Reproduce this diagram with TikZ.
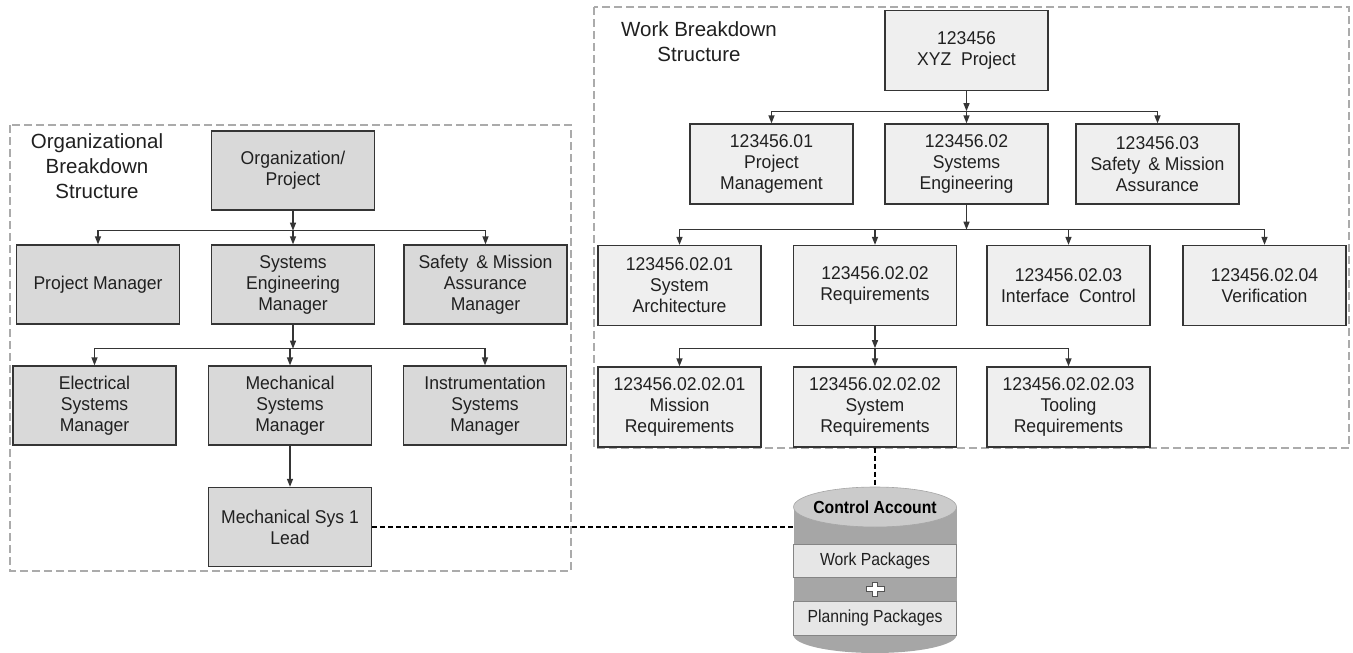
\documentclass[tikz,border=0pt]{standalone}
\usepackage{fontspec}
\setmainfont{Liberation Sans}
\newfontfamily\boxfont{Liberation Sans}[FakeStretch=0.95]
\newfontfamily\cylfont{Liberation Sans}[FakeStretch=0.9]
\usetikzlibrary{arrows.meta,shapes.geometric}

\definecolor{obsfill}{HTML}{D9D9D9}
\definecolor{wbsfill}{HTML}{EFEFEF}
\definecolor{linec}{HTML}{353535}
\definecolor{framec}{HTML}{ABABAB}
\definecolor{txt}{HTML}{202020}
\definecolor{cylbody}{HTML}{A6A6A6}
\definecolor{cyltop}{HTML}{CBCBCB}
\definecolor{cylband}{HTML}{E6E6E6}

\tikzset{
  obsbox/.style={draw=linec, fill=obsfill, line width=1.3pt,
    minimum width=163pt, minimum height=79pt, inner sep=0pt,
    align=center, text=txt, font=\boxfont\fontsize{18.5}{21}\selectfont},
  wbsbox/.style={obsbox, fill=wbsfill, minimum height=80pt},
  arr/.style={draw=linec, line width=1.3pt, -{Triangle[length=8pt,width=6pt]}},
  framebox/.style={draw=framec, line width=1.2pt, dash pattern=on 8pt off 4pt},
  link/.style={draw=black, line width=2.2pt, dash pattern=on 5pt off 3pt},
  heading/.style={align=center, text=txt, font=\fontsize{20.5}{25}\selectfont},
  band/.style={fill=cylband, draw=cylbody!80!black, line width=0.5pt,
    minimum width=163pt, inner sep=0pt, text=txt,
    font=\cylfont\fontsize{17.5}{20}\selectfont},
}

\begin{document}
\begin{tikzpicture}[x=1pt,y=-1pt]
\useasboundingbox (0,0) rectangle (1353,653);

% ---------- dashed frames ----------
\draw[framebox] (10,125) rectangle (571,571);
\draw[framebox] (594,7) rectangle (1349,448);

% ---------- Organizational Breakdown Structure ----------
\node[heading] (obstitle) at (97,166) {Organizational\\Breakdown\\Structure};

\node[obsbox] (org) at (293,170.5) {Organization/\\Project};
\node[obsbox] (pm)  at (98,284.5)  {Project Manager};
\node[obsbox] (sem) at (293,284.5) {Systems\\Engineering\\Manager};
\node[obsbox] (sma) at (485.5,284.5) {Safety \,\& Mission\\Assurance\\Manager};
\node[obsbox] (esm) at (94.5,405.5) {Electrical\\Systems\\Manager};
\node[obsbox] (msm) at (290,405.5) {Mechanical\\Systems\\Manager};
\node[obsbox] (ism) at (485,405.5) {Instrumentation\\Systems\\Manager};
\node[obsbox] (lead) at (290,527) {Mechanical Sys 1\\Lead};

\coordinate (ob1) at ([yshift=-20pt]org.south);
\draw[arr] (org.south) -- (ob1);
\draw[arr] (ob1) -| (pm.north);
\draw[arr] (ob1) -- (sem.north);
\draw[arr] (ob1) -| (sma.north);

\coordinate (ob2) at ([yshift=-24pt]sem.south);
\draw[arr] (sem.south) -- (ob2);
\draw[arr] (ob2) -| (esm.north);
\draw[arr] (ob2) -| (msm.north);
\draw[arr] (ob2) -| (ism.north);

\draw[arr] (msm.south) -- (lead.north);

% ---------- Work Breakdown Structure ----------
\node[heading] (wbstitle) at (699,42) {Work Breakdown\\Structure};

\node[wbsbox] (xyz) at (966.5,50.5) {123456\\XYZ\ \ Project};
\node[wbsbox] (w01) at (771.5,164) {123456.01\\Project\\Management};
\node[wbsbox] (w02) at (966.5,164) {123456.02\\Systems\\Engineering};
\node[wbsbox] (w03) at (1157.5,164) {123456.03\\Safety \,\& Mission\\Assurance};

\node[wbsbox] (w0201) at (679.5,285.5) {123456.02.01\\System\\Architecture};
\node[wbsbox] (w0202) at (875,285.5) {123456.02.02\\Requirements};
\node[wbsbox] (w0203) at (1068.5,285.5) {123456.02.03\\Interface\ \ Control};
\node[wbsbox] (w0204) at (1264.5,285.5) {123456.02.04\\Verification};

\node[wbsbox] (w020201) at (679.5,407) {123456.02.02.01\\Mission\\Requirements};
\node[wbsbox] (w020202) at (875,407) {123456.02.02.02\\System\\Requirements};
\node[wbsbox] (w020203) at (1068.5,407) {123456.02.02.03\\Tooling\\Requirements};

\coordinate (wb1) at ([yshift=-20pt]xyz.south);
\draw[arr] (xyz.south) -- (wb1);
\draw[arr] (wb1) -| (w01.north);
\draw[arr] (wb1) -- (w02.north);
\draw[arr] (wb1) -| (w03.north);

\coordinate (wb2) at ([yshift=-25pt]w02.south);
\draw[arr] (w02.south) -- (wb2);
\draw[arr] (wb2) -| (w0201.north);
\draw[arr] (wb2) -| (w0202.north);
\draw[arr] (wb2) -| (w0203.north);
\draw[arr] (wb2) -| (w0204.north);

\coordinate (wb3) at ([yshift=-22pt]w0202.south);
\draw[arr] (w0202.south) -- (wb3);
\draw[arr] (wb3) -| (w020201.north);
\draw[arr] (wb3) -- (w020202.north);
\draw[arr] (wb3) -| (w020203.north);

% ---------- Control Account cylinder ----------
\node[ellipse, fill=cylbody, minimum width=163pt, minimum height=36pt, inner sep=0pt] (cylbot) at (875,635) {};
\node[fill=cylbody, minimum width=163pt, minimum height=128pt, inner sep=0pt] (cyl) at (875,571) {};
\node[band, minimum height=33pt] (wp) at (875,560.5) {Work Packages};
\node[band, minimum height=34pt] (pp) at (875,618) {Planning Packages};
\draw[fill=white, draw=linec!85, line width=0.9pt, shift={(875,589)}]
  (-9,-2.8) -- (-2.8,-2.8) -- (-2.8,-7) -- (2.8,-7) -- (2.8,-2.8) -- (9,-2.8)
  -- (9,2.8) -- (2.8,2.8) -- (2.8,7) -- (-2.8,7) -- (-2.8,2.8) -- (-9,2.8) -- cycle;
\node[ellipse, fill=cyltop, draw=cylbody, line width=0.6pt, minimum width=163pt, minimum height=40pt, inner sep=0pt] (ca) at (875,507) {};
\node[text=black, font=\cylfont\fontsize{17.5}{20}\selectfont\bfseries] (catext) at (ca.center) {Control Account};

% ---------- dashed links ----------
\draw[link] (w020202.south) -- (ca.north);
\draw[link] (lead.east) -- (lead.east -| cyl.west);

\end{tikzpicture}
\end{document}
